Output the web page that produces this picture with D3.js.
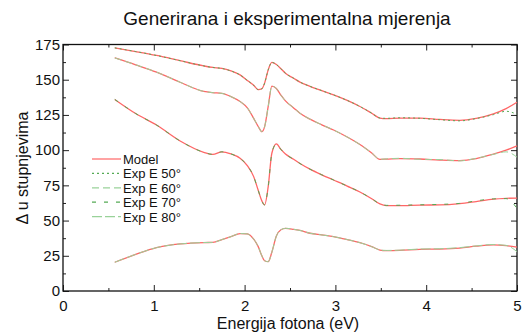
<!DOCTYPE html>
<html>
<head>
<meta charset="utf-8">
<script src="https://cdn.jsdelivr.net/npm/d3@7/dist/d3.min.js"></script>
<style>
  html, body { margin: 0; padding: 0; background: #fff; }
  svg { display: block; font-family: "Liberation Sans", Arial, sans-serif; }
</style>
</head>
<body>
<svg id="chart" width="524" height="335"></svg>
<script>
// ---------- data ----------
const title = "Generirana i eksperimentalna mjerenja";
const xLabel = "Energija fotona (eV)";
const yLabel = "\u0394 u stupnjevima";
const xTicks = [0, 1, 2, 3, 4, 5];
const yTicks = [0, 25, 50, 75, 100, 125, 150, 175];
const seriesNames = ["Model", "Exp E 50\u00b0", "Exp E 60\u00b0", "Exp E 70\u00b0", "Exp E 80\u00b0"];

const energy = [0.57, 0.8, 1.03, 1.29, 1.55, 1.65, 1.75, 1.85, 1.95, 2.03, 2.1, 2.15, 2.19, 2.22, 2.26, 2.3, 2.35, 2.4, 2.45, 2.54, 2.61, 2.72, 2.85, 2.98, 3.13, 3.27, 3.4, 3.49, 3.56, 3.71, 3.93, 4.15, 4.37, 4.55, 4.74, 4.88, 5.0];

// model curves (one per angle)
const model50 = [172.6, 170.0, 167.2, 163.5, 159.8, 158.7, 158.0, 156.2, 153.4, 149.5, 146.0, 143.0, 143.6, 147.5, 157.0, 162.3, 160.8, 157.8, 154.6, 151.0, 148.3, 145.3, 142.2, 139.2, 135.3, 131.0, 126.2, 122.8, 122.4, 122.8, 122.8, 121.8, 121.2, 122.6, 125.8, 129.5, 134.0];
const model60 = [165.5, 160.6, 155.4, 148.2, 141.7, 140.8, 140.3, 138.0, 134.5, 130.0, 122.6, 116.8, 113.1, 116.5, 131.0, 145.5, 143.8, 139.0, 135.0, 130.0, 126.2, 122.0, 118.0, 114.3, 109.3, 104.0, 98.0, 93.5, 93.6, 94.0, 93.7, 93.0, 92.6, 94.0, 97.2, 100.0, 103.0];
const model70 = [136.0, 126.0, 117.8, 106.5, 98.5, 97.0, 98.8, 97.3, 94.2, 89.0, 81.2, 71.5, 64.0, 61.1, 74.1, 97.8, 104.4, 100.5, 97.2, 93.5, 90.5, 86.5, 82.5, 78.8, 74.5, 70.3, 65.5, 61.8, 60.6, 60.6, 61.0, 61.1, 62.0, 63.5, 65.2, 65.8, 66.0];
const model80 = [20.4, 26.0, 30.8, 33.4, 34.4, 34.5, 36.5, 38.6, 40.8, 40.5, 36.8, 31.5, 25.0, 21.5, 20.8, 27.5, 39.0, 43.5, 44.5, 43.8, 43.0, 41.0, 39.8, 38.6, 36.5, 34.3, 31.5, 29.1, 28.6, 28.8, 29.6, 29.8, 30.5, 31.8, 32.7, 32.2, 31.2];

// experimental curves
const exp50 = [172.6, 170.0, 167.2, 163.5, 159.8, 158.7, 158.0, 156.2, 153.4, 149.5, 146.0, 143.0, 143.6, 147.5, 157.0, 162.3, 160.8, 157.8, 154.6, 151.0, 148.3, 145.3, 142.2, 139.2, 135.3, 131.0, 126.2, 122.8, 122.6, 123.0, 122.6, 121.6, 120.8, 122.4, 125.2, 127.6, 125.4];
const exp60 = [165.5, 160.6, 155.4, 148.2, 141.7, 140.8, 140.3, 138.0, 134.5, 130.0, 122.6, 116.8, 113.1, 116.5, 131.0, 145.5, 143.8, 139.0, 135.0, 130.0, 126.2, 122.0, 118.0, 114.3, 109.3, 104.0, 98.0, 93.5, 93.8, 94.2, 93.5, 93.3, 92.4, 94.2, 97.0, 98.8, 95.0];
const exp70 = [136.0, 126.0, 117.8, 106.5, 98.5, 97.0, 98.8, 97.3, 94.2, 89.0, 81.2, 71.5, 64.0, 61.1, 74.1, 97.8, 104.4, 100.5, 97.2, 93.5, 90.5, 86.5, 82.5, 78.8, 74.5, 70.3, 65.5, 61.8, 60.8, 60.9, 61.2, 61.5, 62.2, 64.0, 65.4, 65.6, 58.7];
const exp80 = [20.4, 26.0, 30.8, 33.4, 34.4, 34.5, 36.5, 38.6, 40.8, 40.5, 36.8, 31.5, 25.0, 21.5, 20.8, 27.5, 39.0, 43.5, 44.5, 43.8, 43.0, 41.0, 39.8, 38.6, 36.5, 34.3, 31.5, 29.1, 28.8, 29.0, 29.8, 30.0, 30.8, 32.0, 33.0, 32.4, 27.9];

// ---------- layout ----------
const svg = d3.select("#chart");
const L = 63, R = 517, T = 44.5, B = 291;
const x = d3.scaleLinear().domain([0, 5]).range([L, R]);
const y = d3.scaleLinear().domain([0, 175]).range([B, T]);

const modelColor = "#ff6666";
const expStyles = [
  { color: "#55aa55", dash: "2,3" },
  { color: "#99d299", dash: "7,4" },
  { color: "#55aa55", dash: "4,8" },
  { color: "#99d299", dash: "10,3" }
];

// title & axis labels
svg.append("text").attr("x", 287).attr("y", 25).attr("text-anchor", "middle")
  .attr("font-size", 19).attr("fill", "#111").text(title);
svg.append("text").attr("x", 288).attr("y", 329).attr("text-anchor", "middle")
  .attr("font-size", 16).attr("fill", "#111").text(xLabel);
svg.append("text").attr("transform", "translate(28,168) rotate(-90)").attr("text-anchor", "middle")
  .attr("font-size", 16).attr("fill", "#111").text(yLabel);

// axes
function styleAxis(g) {
  g.select(".domain").remove();
  g.selectAll("line").attr("stroke", "#222").attr("stroke-width", 1);
  g.selectAll("text").attr("font-size", 15).attr("fill", "#111")
    .attr("font-family", "'Liberation Sans', Arial, sans-serif");
}
const minorX = d3.range(0.5, 5, 1);
const minorY = d3.range(12.5, 175, 25);

svg.append("g").attr("transform", `translate(0,${B})`)
  .call(d3.axisBottom(x).tickValues(xTicks).tickFormat(d3.format("d")).tickSizeInner(-6).tickSizeOuter(0).tickPadding(9))
  .call(styleAxis);
svg.append("g").attr("transform", `translate(0,${B})`)
  .call(d3.axisBottom(x).tickValues(minorX).tickFormat("").tickSizeInner(-3).tickSizeOuter(0))
  .call(styleAxis);
svg.append("g").attr("transform", `translate(0,${T})`)
  .call(d3.axisTop(x).tickValues(xTicks).tickFormat("").tickSizeInner(-6).tickSizeOuter(0))
  .call(styleAxis);
svg.append("g").attr("transform", `translate(0,${T})`)
  .call(d3.axisTop(x).tickValues(minorX).tickFormat("").tickSizeInner(-3).tickSizeOuter(0))
  .call(styleAxis);
svg.append("g").attr("transform", `translate(${L},0)`)
  .call(d3.axisLeft(y).tickValues(yTicks).tickFormat(d3.format("d")).tickSizeInner(-6).tickSizeOuter(0).tickPadding(3))
  .call(styleAxis);
svg.append("g").attr("transform", `translate(${L},0)`)
  .call(d3.axisLeft(y).tickValues(minorY).tickFormat("").tickSizeInner(-3).tickSizeOuter(0))
  .call(styleAxis);
svg.append("g").attr("transform", `translate(${R},0)`)
  .call(d3.axisRight(y).tickValues(yTicks).tickFormat("").tickSizeInner(-6).tickSizeOuter(0))
  .call(styleAxis);
svg.append("g").attr("transform", `translate(${R},0)`)
  .call(d3.axisRight(y).tickValues(minorY).tickFormat("").tickSizeInner(-3).tickSizeOuter(0))
  .call(styleAxis);

// frame
svg.append("rect").attr("x", L).attr("y", T).attr("width", R - L).attr("height", B - T)
  .attr("fill", "none").attr("stroke", "#111").attr("stroke-width", 1.3);

// curves
const line = d3.line().x((d, i) => x(energy[i])).y(d => y(d)).curve(d3.curveMonotoneX);
const models = [model50, model60, model70, model80];
const exps = [exp50, exp60, exp70, exp80];
const plot = svg.append("g");
models.forEach(m => {
  plot.append("path").attr("d", line(m)).attr("fill", "none")
    .attr("stroke", modelColor).attr("stroke-width", 1.3);
});
exps.forEach((e, k) => {
  plot.append("path").attr("d", line(e)).attr("fill", "none")
    .attr("stroke", expStyles[k].color).attr("stroke-width", 1)
    .attr("stroke-dasharray", expStyles[k].dash);
});

// legend
const lg = svg.append("g");
seriesNames.forEach((name, i) => {
  const yy = 159 + i * 14.4;
  const st = i === 0 ? { color: modelColor, dash: null } : expStyles[i - 1];
  lg.append("line").attr("x1", 92).attr("x2", 121).attr("y1", yy).attr("y2", yy)
    .attr("stroke", st.color).attr("stroke-width", 1.2)
    .attr("stroke-dasharray", st.dash);
  lg.append("text").attr("x", 123).attr("y", yy + 5).attr("font-size", 13)
    .attr("fill", "#111").text(name);
});
</script>
</body>
</html>
